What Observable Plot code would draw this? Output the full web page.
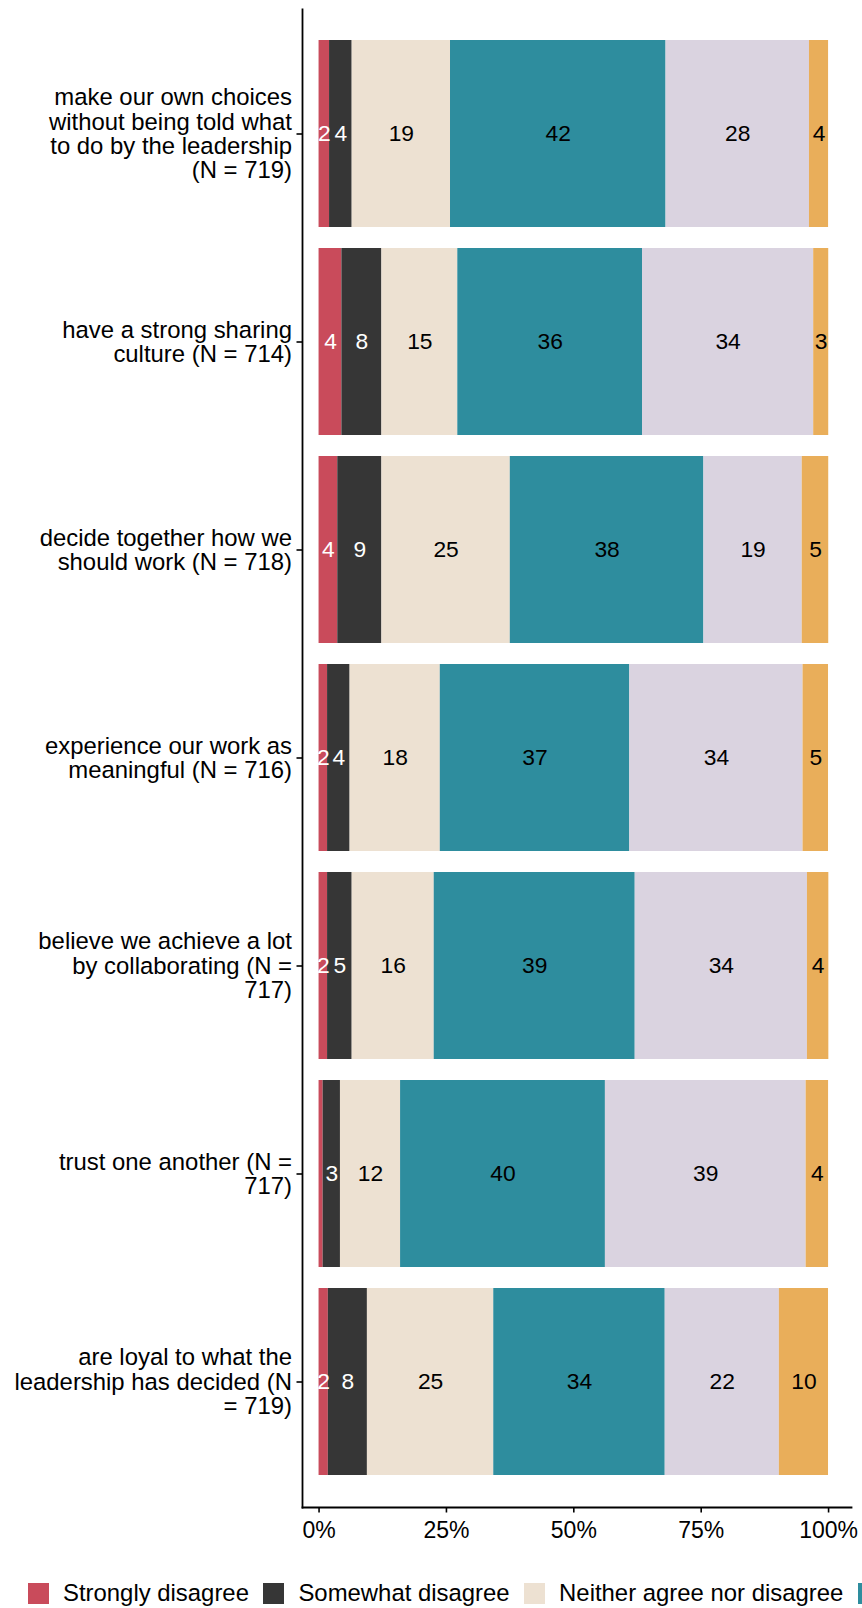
<!DOCTYPE html>
<html>
<head>
<meta charset="utf-8">
<script src="https://cdn.jsdelivr.net/npm/d3@7"></script>
<script src="https://cdn.jsdelivr.net/npm/@observablehq/plot@0.6"></script>
<style>
  html, body { margin: 0; padding: 0; background: #fff; overflow: hidden; }
  body { position: relative; width: 862px; height: 1608px; font-family: "Liberation Sans", Arial, sans-serif; }
  #chart svg { display: block; }
  #legend { position: absolute; left: 28px; top: 1582px; height: 22px; display: flex; align-items: center; white-space: nowrap; font-size: 23.9px; color: #000; }
  #legend .item { display: flex; align-items: center; margin-right: 14.5px; }
  #legend .sw { width: 21px; height: 21px; margin-right: 14px; flex: none; }
</style>
</head>
<body>
<div id="chart"></div>
<div id="legend"></div>
<script>
const categories = [
  "make our own choices\nwithout being told what\nto do by the leadership\n(N = 719)",
  "have a strong sharing\nculture (N = 714)",
  "decide together how we\nshould work (N = 718)",
  "experience our work as\nmeaningful (N = 716)",
  "believe we achieve a lot\nby collaborating (N =\n717)",
  "trust one another (N =\n717)",
  "are loyal to what the\nleadership has decided (N\n= 719)"
];
const responses = ["Strongly disagree", "Somewhat disagree", "Neither agree nor disagree", "Somewhat agree", "Strongly agree", "Don't know"];
const colors = ["#C94B5B", "#363636", "#EDE1D2", "#2E8D9E", "#DAD3E0", "#E9AE5A"];

const stronglyDisagree = [2.06, 4.48, 3.67, 1.67, 1.67, 0.8, 1.82];
const somewhatDisagree = [4.44, 7.85, 8.66, 4.42, 4.83, 3.4, 7.67];
const neither          = [19.3, 14.9, 25.2, 17.7, 16.1, 11.8, 24.8];
const somewhatAgree    = [42.3, 36.25, 38.0, 37.2, 39.45, 40.2, 33.65];
const stronglyAgree    = [28.15, 33.6, 19.3, 34.0, 33.8, 39.4, 22.4];
const dontKnow         = [3.75, 2.95, 5.2, 5.0, 4.2, 4.4, 9.65];

const xTicks = [0, 25, 50, 75, 100];

const series = [stronglyDisagree, somewhatDisagree, neither, somewhatAgree, stronglyAgree, dontKnow];
const data = [];
categories.forEach((c, i) => {
  responses.forEach((r, j) => {
    data.push({category: c, response: r, value: series[j][i], idx: j});
  });
});

const font = "'Liberation Sans', Arial, sans-serif";
const lbl = d => d.value >= 1 ? String(Math.round(d.value)) : "";

const chart = Plot.plot({
  width: 862,
  height: 1560,
  marginLeft: 302,
  marginRight: 11,
  marginTop: 9,
  marginBottom: 53,
  style: {fontFamily: font, background: "#fff", color: "#000"},
  x: {domain: [-3.25, 104.5]},
  y: {domain: categories, paddingInner: 0.1, paddingOuter: 0.15},
  color: {domain: responses, range: colors},
  marks: [
    Plot.barX(data, Plot.stackX({x: "value", y: "category", fill: "response", order: responses})),
    Plot.text(data, Plot.stackX({x: "value", y: "category", z: "response", order: responses, text: d => d.idx < 2 ? lbl(d) : "", fill: "white", fontSize: 22.8})),
    Plot.text(data, Plot.stackX({x: "value", y: "category", z: "response", order: responses, text: d => d.idx >= 2 ? lbl(d) : "", fill: "black", fontSize: 22.8})),
    Plot.frame({anchor: "left", stroke: "black", strokeWidth: 1.8}),
    Plot.frame({anchor: "bottom", stroke: "black", strokeWidth: 1.8}),
    Plot.axisY({fontSize: 23.9, lineHeight: 1.02, tickSize: 5.5, tickPadding: 5, strokeWidth: 1.6, label: null}),
    Plot.axisX(xTicks, {tickFormat: d => d + "%", fontSize: 23, tickSize: 5.5, tickPadding: 8.5, strokeWidth: 1.6, label: null})
  ]
});
document.getElementById("chart").appendChild(chart);

const legend = document.getElementById("legend");
responses.forEach((r, i) => {
  const item = document.createElement("div");
  item.className = "item";
  const sw = document.createElement("span");
  sw.className = "sw";
  sw.style.background = colors[i];
  const t = document.createElement("span");
  t.textContent = r;
  item.appendChild(sw);
  item.appendChild(t);
  legend.appendChild(item);
});
</script>
</body>
</html>
